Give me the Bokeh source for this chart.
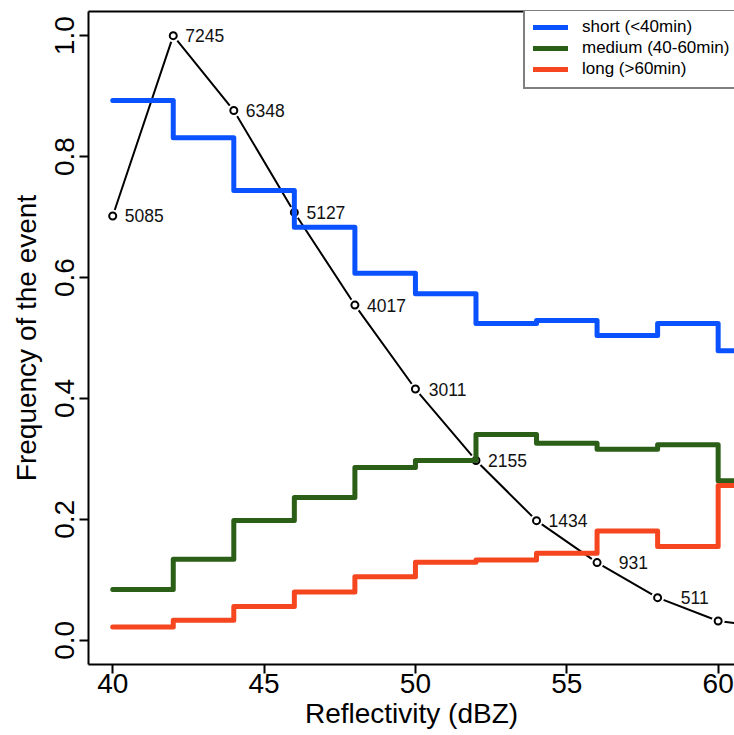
from bokeh.plotting import figure
from bokeh.models import Range1d, LinearAxis, FixedTicker, Legend, LegendItem, ColumnDataSource
from bokeh.core.properties import value
from bokeh.embed import file_html
from bokeh.resources import INLINE

# ---- data ----
bins = [40, 42, 44, 46, 48, 50, 52, 54, 56, 58, 60]
bin_width = 2
short = [0.893, 0.831, 0.744, 0.683, 0.607, 0.573, 0.524, 0.529, 0.504, 0.524, 0.479]
medium = [0.084, 0.134, 0.198, 0.236, 0.286, 0.2975, 0.3405, 0.326, 0.316, 0.3235, 0.264]
long_ = [0.022, 0.033, 0.056, 0.080, 0.105, 0.129, 0.133, 0.144, 0.181, 0.155, 0.256]

count_x = [40, 42, 44, 46, 48, 50, 52, 54, 56, 58, 60, 62]
counts = [5085, 7245, 6348, 5127, 4017, 3011, 2155, 1434, 931, 511, 231, 138]
n_labelled = 10  # labels visible in the reference

x_ticks = [40, 45, 50, 55, 60]
y_ticks = [0.0, 0.2, 0.4, 0.6, 0.8, 1.0]
y_tick_labels = ["0.0", "0.2", "0.4", "0.6", "0.8", "1.0"]

series_names = ["short (<40min)", "medium (40-60min)", "long (>60min)"]
series_colors = ["#0A52FF", "#2B5E16", "#F6461F"]

FONT = "Liberation Sans"

p = figure(width=734, height=735, output_backend="svg", toolbar_location=None,
           x_range=Range1d(39.2, 60.54), y_range=Range1d(-0.04, 1.04),
           min_border_left=88, min_border_right=0, min_border_top=11, min_border_bottom=71,
           outline_line_color=None, background_fill_color="white", border_fill_color="white")
p.xgrid.visible = False
p.ygrid.visible = False

# axes
for ax in (p.xaxis[0], p.yaxis[0]):
    ax.axis_line_width = 2
    ax.axis_line_color = "black"
    ax.major_tick_line_width = 2
    ax.major_tick_line_color = "black"
    ax.major_tick_out = 9
    ax.major_tick_in = 0
    ax.minor_tick_line_color = None
    ax.major_label_text_font = FONT
    ax.major_label_text_font_size = "28px"
    ax.major_label_text_color = "black"
    ax.axis_label_text_font = FONT
    ax.axis_label_text_font_size = "28px"
    ax.axis_label_text_font_style = "normal"
    ax.axis_label_text_color = "black"

p.xaxis.ticker = FixedTicker(ticks=x_ticks)
p.xaxis.axis_label = "Reflectivity (dBZ)"
p.xaxis.major_label_standoff = 0
p.xaxis.axis_label_standoff = 2

p.yaxis.ticker = FixedTicker(ticks=y_ticks)
p.yaxis.major_label_overrides = {t: l for t, l in zip(y_ticks, y_tick_labels)}
p.yaxis.major_label_orientation = "vertical"
p.yaxis.axis_label = "Frequency of the event"
p.yaxis.major_label_standoff = 5
p.yaxis.axis_label_standoff = 11

top = LinearAxis(ticker=FixedTicker(ticks=[]), major_tick_out=0, major_tick_in=0,
                 minor_tick_out=0, minor_tick_in=0, major_label_standoff=0,
                 major_label_text_font_size="0px", axis_line_width=2, axis_line_color="black")
p.add_layout(top, "above")

# black count curve
cy = [c / max(counts) for c in counts]
src = ColumnDataSource(dict(x=count_x, y=cy))
lab_src = ColumnDataSource(dict(x=count_x[:n_labelled], y=cy[:n_labelled],
                                lab=[str(c) for c in counts[:n_labelled]]))
p.line("x", "y", source=src, line_color="black", line_width=2)
p.scatter("x", "y", source=src, size=13, fill_color="white", line_color=None)
p.scatter("x", "y", source=src, size=7, fill_color="white", line_color="black", line_width=2)
p.text("x", "y", text="lab", source=lab_src, x_offset=51, text_align="right", text_baseline="middle",
       text_font=value(FONT), text_font_size="17.5px", text_color="#111111")

# step series
renderers = []
for vals, col in zip([short, medium, long_], series_colors):
    xs, ys = [], []
    for b, v in zip(bins, vals):
        xs += [b, b + bin_width]
        ys += [v, v]
    r = p.line(xs, ys, line_color=col, line_width=5, line_join="round", line_cap="round")
    renderers.append(r)

legend = Legend(items=[LegendItem(label=n, renderers=[r]) for n, r in zip(series_names, renderers)],
                location=(435, 575), padding=8, spacing=1, label_height=20, glyph_width=35,
                glyph_height=20, label_standoff=14, margin=0, border_line_color="black",
                border_line_width=2, label_text_font=FONT, label_text_font_size="17px",
                label_text_color="black", background_fill_alpha=1.0)
p.add_layout(legend)

open("out.html", "w").write(file_html(p, INLINE))
